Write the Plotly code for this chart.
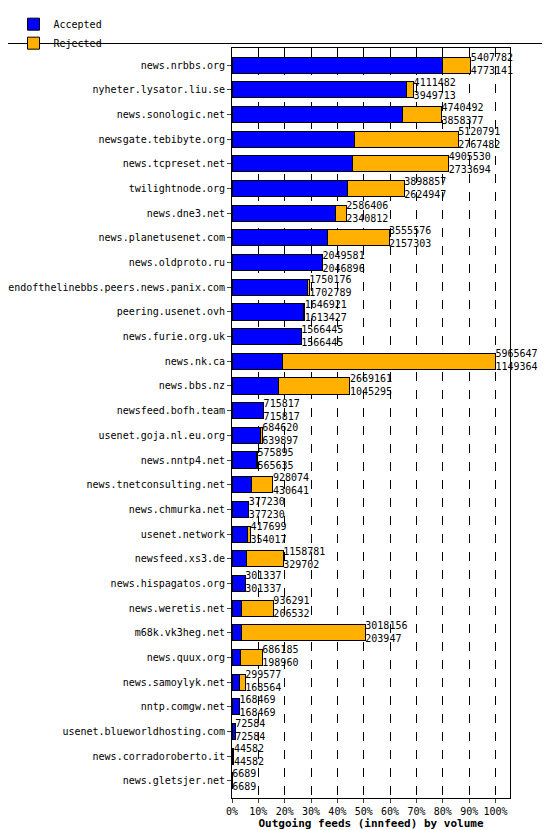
import plotly.graph_objects as go

hosts = ["news.nrbbs.org","nyheter.lysator.liu.se","news.sonologic.net","newsgate.tebibyte.org",
"news.tcpreset.net","twilightnode.org","news.dne3.net","news.planetusenet.com","news.oldproto.ru",
"endofthelinebbs.peers.news.panix.com","peering.usenet.ovh","news.furie.org.uk","news.nk.ca",
"news.bbs.nz","newsfeed.bofh.team","usenet.goja.nl.eu.org","news.nntp4.net","news.tnetconsulting.net",
"news.chmurka.net","usenet.network","newsfeed.xs3.de","news.hispagatos.org","news.weretis.net",
"m68k.vk3heg.net","news.quux.org","news.samoylyk.net","nntp.comgw.net","usenet.blueworldhosting.com",
"news.corradoroberto.it","news.gletsjer.net"]
offered = [5407782,4111482,4740492,5120791,4905530,3898857,2586406,3555576,2049581,1750176,1646921,
1566445,5965647,2669161,715817,684620,575895,928074,377230,417699,1158781,301337,936291,3018156,
686185,299577,168469,72584,44582,6689]
accepted = [4773141,3949713,3858377,2767482,2733694,2624947,2340812,2157303,2046896,1702789,1613427,
1566445,1149364,1045295,715817,639897,565635,430641,377230,354017,329702,301337,206532,203947,
198960,168564,168469,72584,44582,6689]
tick_vals = [0,0.1,0.2,0.3,0.4,0.5,0.6,0.7,0.8,0.9,1.0]
tick_text = ["0%","10%","20%","30%","40%","50%","60%","70%","80%","90%","100%"]

mx = max(offered)
acc_f = [a/mx for a in accepted]
rej_f = [(o-a)/mx for o, a in zip(offered, accepted)]
tot_f = [o/mx for o in offered]
labels = [f"{o}<br>{a}" for o, a in zip(offered, accepted)]

font = "DejaVu Sans Mono"
fig = go.Figure()
fig.add_bar(y=hosts, x=acc_f, orientation="h", name="Accepted",
            marker=dict(color="#0000ff", line=dict(color="black", width=1)))
fig.add_bar(y=hosts, x=rej_f, orientation="h", name="Rejected",
            marker=dict(color="#ffb000", line=dict(color="black", width=1)))
fig.add_scatter(y=hosts, x=tot_f, mode="text", text=labels, textposition="middle right",
                textfont=dict(family=font, size=10, color="black"), showlegend=False,
                hoverinfo="skip", cliponaxis=False)
fig.update_layout(
    width=550, height=830, barmode="stack", bargap=0.35,
    plot_bgcolor="white", paper_bgcolor="white",
    margin=dict(l=224, r=48, t=40, b=40, autoexpand=False),
    font=dict(family=font, size=10, color="black"),
    legend=dict(orientation="h", x=0.01, xref="container", y=0.998, yref="container",
                xanchor="left", yanchor="top", font=dict(size=10), itemwidth=30,
                entrywidth=270, entrywidthmode="pixels", traceorder="normal",
                bgcolor="rgba(0,0,0,0)"),
    xaxis=dict(range=[0, 1.055], tickvals=tick_vals, ticktext=tick_text, showgrid=True,
               gridcolor="black", griddash="dash", gridwidth=1, zeroline=False,
               showline=True, linecolor="black", mirror=True, ticks="outside", ticklen=4,
               automargin=False,
               title=dict(text="<b>Outgoing feeds (innfeed) by volume</b>", standoff=2,
                          font=dict(size=11))),
    yaxis=dict(range=[29.7, -0.7], showline=True, linecolor="black", mirror=True,
               ticks="outside", ticklen=4, tickfont=dict(size=10), automargin=False),
    shapes=[dict(type="line", xref="paper", yref="paper", x0=-224/278, x1=1+48/278,
                 y0=1.006, y1=1.006, line=dict(color="black", width=1))],
)
fig.write_html("out.html")
